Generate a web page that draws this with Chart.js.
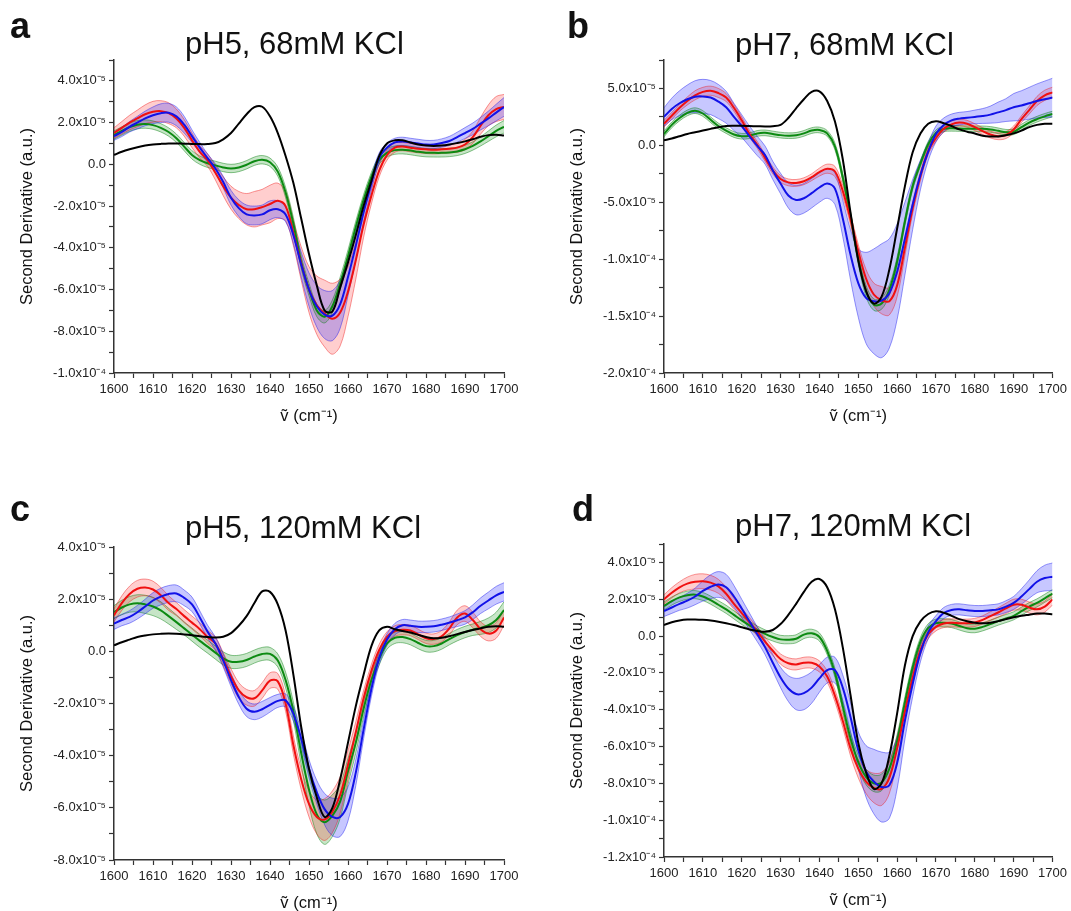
<!DOCTYPE html>
<html>
<head>
<meta charset="utf-8">
<title>Second derivative spectra</title>
<script src="https://cdn.jsdelivr.net/npm/chart.js@4.4.1/dist/chart.umd.min.js"></script>
<style>
  html, body { margin: 0; padding: 0; background: #ffffff; overflow: hidden; }
  #page { position: relative; width: 1071px; height: 911px; overflow: hidden;
          font-family: "Liberation Sans", Arial, Helvetica, sans-serif; color: #111; }
  #page canvas { position: absolute; }
  .letter { position: absolute; font-size: 36px; line-height: 36px; font-weight: bold; }
  .title { position: absolute; font-size: 31px; line-height: 31px; white-space: nowrap; }
</style>
</head>
<body>
<div id="page">
  <canvas id="chartA" width="535" height="455" style="left:0px;top:0px"></canvas>
  <canvas id="chartB" width="521" height="455" style="left:550px;top:0px"></canvas>
  <canvas id="chartC" width="535" height="455" style="left:0px;top:487px"></canvas>
  <canvas id="chartD" width="521" height="455" style="left:550px;top:484px"></canvas>
  <div class="letter" style="left:10px;top:8px">a</div>
  <div class="letter" style="left:567px;top:8px">b</div>
  <div class="letter" style="left:10px;top:491px">c</div>
  <div class="letter" style="left:572px;top:491px">d</div>
  <div class="title" style="left:185px;top:28px">pH5, 68mM KCl</div>
  <div class="title" style="left:735px;top:29px">pH7, 68mM KCl</div>
  <div class="title" style="left:185px;top:512px">pH5, 120mM KCl</div>
  <div class="title" style="left:735px;top:510px">pH7, 120mM KCl</div>
</div>
<script>
// all second derivative values are in units of 1e-5
var wavenumbers = [1600, 1602, 1604, 1606, 1608, 1610, 1612, 1614, 1616, 1618,
    1620, 1622, 1624, 1626, 1628, 1630, 1632, 1634, 1636, 1638,
    1640, 1642, 1644, 1646, 1648, 1650, 1652, 1654, 1656, 1658,
    1660, 1662, 1664, 1666, 1668, 1670, 1672, 1674, 1676, 1678,
    1680, 1682, 1684, 1686, 1688, 1690, 1692, 1694, 1696, 1698, 1700];

// a: pH5, 68mM KCl
var aBlack = [0.45, 0.6, 0.72, 0.82, 0.9, 0.95, 0.98, 1.0, 1.0, 0.99, 0.98, 0.97, 0.97, 1.02, 1.2, 1.5, 1.95, 2.4, 2.74, 2.76,
    2.3, 1.5, 0.4, -0.9, -2.6, -4.3, -5.8, -7.0, -7.05, -5.9, -4.7, -3.4, -2.0, -0.8, 0.4, 1.0, 1.15, 1.15, 1.05, 0.95,
    0.9, 0.88, 0.9, 0.95, 1.02, 1.1, 1.2, 1.32, 1.4, 1.42, 1.38];
var aGreen = [1.4, 1.6, 1.78, 1.9, 1.93, 1.88, 1.75, 1.55, 1.25, 0.85, 0.45, 0.2, 0.05, -0.05, -0.15, -0.2, -0.15, -0.02, 0.15, 0.22,
    0.1, -0.35, -1.35, -2.85, -4.7, -6.0, -7.0, -7.3, -6.8, -5.7, -4.4, -3.0, -1.7, -0.6, 0.2, 0.55, 0.68, 0.7, 0.66, 0.6,
    0.56, 0.55, 0.55, 0.57, 0.62, 0.72, 0.88, 1.1, 1.35, 1.6, 1.8];
var aGreenSd = [0.2, 0.2, 0.2, 0.2, 0.2, 0.2, 0.2, 0.2, 0.2, 0.2, 0.2, 0.2, 0.2, 0.2, 0.2, 0.2, 0.2, 0.2, 0.2, 0.2,
    0.2, 0.22, 0.25, 0.3, 0.3, 0.3, 0.3, 0.3, 0.3, 0.3, 0.3, 0.28, 0.25, 0.22, 0.2, 0.2, 0.2, 0.2, 0.2, 0.2,
    0.2, 0.2, 0.2, 0.2, 0.2, 0.2, 0.2, 0.22, 0.25, 0.28, 0.3];
var aRed = [1.5, 1.75, 2.0, 2.2, 2.4, 2.52, 2.55, 2.45, 2.2, 1.75, 1.15, 0.6, 0.2, -0.4, -1.05, -1.6, -1.95, -2.15, -2.15, -2.05,
    -1.9, -1.75, -2.0, -3.3, -4.75, -6.0, -6.75, -7.15, -7.4, -7.1, -6.1, -4.6, -2.9, -1.5, -0.3, 0.45, 0.8, 0.85, 0.8, 0.75,
    0.72, 0.7, 0.72, 0.75, 0.8, 0.95, 1.3, 1.85, 2.35, 2.65, 2.75];
var aRedSd = [0.25, 0.3, 0.35, 0.4, 0.45, 0.5, 0.5, 0.5, 0.45, 0.4, 0.35, 0.3, 0.3, 0.35, 0.45, 0.55, 0.65, 0.75, 0.85, 0.85,
    0.9, 0.85, 0.7, 0.6, 0.8, 1.1, 1.4, 1.6, 1.7, 1.6, 1.2, 0.9, 0.6, 0.4, 0.3, 0.25, 0.22, 0.2, 0.2, 0.2,
    0.2, 0.2, 0.2, 0.2, 0.22, 0.25, 0.3, 0.4, 0.5, 0.6, 0.6];
var aBlue = [1.35, 1.55, 1.8, 2.0, 2.2, 2.35, 2.45, 2.47, 2.3, 1.9, 1.35, 0.8, 0.3, -0.2, -0.85, -1.6, -2.1, -2.4, -2.45, -2.4,
    -2.2, -2.15, -2.4, -3.4, -4.8, -6.0, -6.8, -7.2, -7.25, -6.7, -5.4, -3.9, -2.3, -0.9, 0.3, 0.8, 1.05, 1.1, 1.05, 1.0,
    0.95, 0.95, 1.02, 1.12, 1.3, 1.5, 1.7, 1.95, 2.2, 2.48, 2.75];
var aBlueSd = [0.2, 0.22, 0.25, 0.3, 0.35, 0.4, 0.45, 0.45, 0.45, 0.4, 0.3, 0.25, 0.2, 0.22, 0.28, 0.35, 0.4, 0.45, 0.45, 0.45,
    0.45, 0.4, 0.35, 0.4, 0.6, 0.8, 1.0, 1.15, 1.2, 1.15, 0.9, 0.7, 0.5, 0.35, 0.25, 0.22, 0.2, 0.2, 0.2, 0.2,
    0.2, 0.2, 0.2, 0.22, 0.24, 0.26, 0.28, 0.3, 0.35, 0.4, 0.45];

// b: pH7, 68mM KCl
var bBlack = [0.44, 0.6, 0.8, 1.0, 1.15, 1.3, 1.45, 1.6, 1.7, 1.72, 1.72, 1.7, 1.68, 1.66, 1.68, 1.8, 2.4, 3.25, 4.05, 4.7,
    4.75, 3.9, 2.1, -1.2, -5.9, -10.1, -12.8, -13.9, -13.3, -10.9, -7.3, -3.6, -0.6, 1.05, 1.9, 2.12, 1.95, 1.7, 1.4, 1.2,
    1.05, 0.85, 0.78, 0.78, 0.88, 1.05, 1.3, 1.6, 1.8, 1.9, 1.9];
var bGreen = [1.0, 1.8, 2.4, 2.85, 3.05, 2.8, 2.25, 1.7, 1.3, 0.95, 0.8, 0.85, 1.05, 1.1, 1.0, 0.9, 0.85, 0.88, 1.05, 1.3,
    1.35, 1.05, -0.1, -2.8, -6.2, -10.0, -12.8, -14.0, -13.9, -12.7, -10.2, -6.7, -3.6, -1.6, 0.1, 1.1, 1.45, 1.5, 1.48, 1.46,
    1.45, 1.45, 1.4, 1.28, 1.15, 1.2, 1.6, 2.0, 2.3, 2.55, 2.75];
var bGreenSd = [0.25, 0.25, 0.25, 0.25, 0.25, 0.25, 0.25, 0.25, 0.25, 0.25, 0.25, 0.25, 0.25, 0.25, 0.25, 0.25, 0.25, 0.25, 0.25, 0.25,
    0.25, 0.25, 0.3, 0.35, 0.4, 0.45, 0.5, 0.5, 0.5, 0.45, 0.4, 0.35, 0.3, 0.25, 0.25, 0.25, 0.25, 0.25, 0.25, 0.25,
    0.25, 0.25, 0.25, 0.25, 0.25, 0.25, 0.25, 0.25, 0.25, 0.25, 0.25];
var bRed = [1.9, 2.6, 3.3, 3.9, 4.4, 4.7, 4.8, 4.6, 4.2, 3.3, 2.2, 1.0, 0.05, -1.1, -2.2, -2.95, -3.25, -3.3, -3.15, -2.8,
    -2.35, -2.05, -2.3, -4.0, -6.5, -9.3, -11.7, -13.1, -13.6, -13.7, -12.3, -9.0, -5.5, -2.7, -0.5, 0.65, 1.45, 1.85, 2.0, 1.9,
    1.6, 1.25, 0.95, 0.8, 0.9, 1.4, 2.3, 3.1, 3.9, 4.4, 4.66];
var bRedSd = [0.3, 0.3, 0.3, 0.35, 0.4, 0.4, 0.4, 0.4, 0.35, 0.3, 0.3, 0.3, 0.3, 0.3, 0.3, 0.3, 0.3, 0.3, 0.3, 0.3,
    0.35, 0.4, 0.45, 0.5, 0.5, 0.6, 0.8, 1.0, 1.2, 1.2, 1.0, 0.7, 0.5, 0.4, 0.3, 0.3, 0.3, 0.3, 0.3, 0.3,
    0.3, 0.3, 0.3, 0.3, 0.3, 0.3, 0.3, 0.35, 0.4, 0.45, 0.45];
var bBlue = [2.5, 3.2, 3.7, 4.05, 4.28, 4.3, 4.2, 3.85, 3.35, 2.5, 1.7, 0.8, -0.05, -0.85, -2.2, -3.35, -4.4, -4.8, -4.65, -4.2,
    -3.7, -3.35, -3.8, -6.4, -9.6, -12.1, -13.4, -13.7, -13.65, -13.0, -11.1, -8.2, -5.2, -2.6, -0.55, 1.0, 1.8, 2.2, 2.35, 2.42,
    2.5, 2.58, 2.7, 2.9, 3.1, 3.35, 3.5, 3.7, 3.9, 4.05, 4.2];
var bBlueSd = [0.8, 0.95, 1.1, 1.25, 1.4, 1.5, 1.5, 1.5, 1.4, 1.2, 1.0, 0.9, 0.85, 0.8, 0.8, 0.9, 1.1, 1.3, 1.3, 1.3,
    1.3, 1.3, 1.4, 1.6, 2.2, 3.0, 4.0, 4.6, 5.0, 4.8, 4.2, 3.2, 2.2, 1.3, 0.8, 0.7, 0.6, 0.55, 0.55, 0.55,
    0.6, 0.65, 0.75, 0.9, 1.0, 1.2, 1.3, 1.4, 1.5, 1.6, 1.7];

// c: pH5, 120mM KCl
var cBlack = [0.23, 0.35, 0.45, 0.55, 0.61, 0.65, 0.67, 0.68, 0.67, 0.65, 0.62, 0.58, 0.55, 0.53, 0.56, 0.7, 0.98, 1.35, 1.85, 2.3,
    2.28, 1.8, 0.8, -0.9, -2.9, -4.5, -5.6, -6.35, -6.0, -4.9, -3.5, -2.1, -0.9, 0.2, 0.8, 0.94, 0.85, 0.78, 0.72, 0.63,
    0.55, 0.5, 0.52, 0.58, 0.66, 0.74, 0.82, 0.88, 0.94, 0.96, 0.94];
var cGreen = [1.5, 1.68, 1.8, 1.84, 1.8, 1.72, 1.57, 1.35, 1.12, 0.88, 0.64, 0.4, 0.18, -0.05, -0.27, -0.4, -0.4, -0.33, -0.2, -0.1,
    -0.1, -0.35, -1.1, -2.3, -3.9, -5.3, -6.25, -6.55, -6.3, -5.75, -4.6, -3.5, -2.2, -1.1, -0.3, 0.3, 0.52, 0.55, 0.47, 0.32,
    0.2, 0.2, 0.3, 0.47, 0.62, 0.74, 0.83, 0.9, 1.0, 1.2, 1.58];
var cGreenSd = [0.25, 0.28, 0.3, 0.33, 0.35, 0.35, 0.33, 0.3, 0.28, 0.25, 0.25, 0.25, 0.25, 0.25, 0.25, 0.25, 0.25, 0.25, 0.25, 0.25,
    0.25, 0.25, 0.3, 0.35, 0.45, 0.6, 0.75, 0.85, 0.8, 0.65, 0.5, 0.4, 0.3, 0.25, 0.22, 0.22, 0.22, 0.22, 0.22, 0.22,
    0.22, 0.22, 0.22, 0.22, 0.22, 0.22, 0.22, 0.25, 0.28, 0.3, 0.32];
var cRed = [1.38, 1.85, 2.2, 2.4, 2.45, 2.37, 2.15, 1.85, 1.62, 1.35, 1.1, 0.85, 0.55, 0.3, -0.3, -0.95, -1.5, -1.76, -1.8, -1.5,
    -1.12, -1.15, -2.0, -3.6, -4.9, -5.85, -6.35, -6.45, -6.15, -5.5, -4.35, -3.1, -1.8, -0.75, 0.05, 0.55, 0.78, 0.83, 0.8, 0.65,
    0.5, 0.47, 0.58, 0.88, 1.3, 1.45, 1.2, 0.85, 0.68, 0.8, 1.3];
var cRedSd = [0.25, 0.28, 0.3, 0.32, 0.32, 0.32, 0.3, 0.28, 0.25, 0.25, 0.25, 0.25, 0.25, 0.25, 0.25, 0.28, 0.3, 0.3, 0.3, 0.3,
    0.3, 0.3, 0.3, 0.35, 0.4, 0.5, 0.65, 0.8, 0.8, 0.7, 0.55, 0.4, 0.3, 0.25, 0.22, 0.2, 0.2, 0.2, 0.2, 0.2,
    0.2, 0.2, 0.22, 0.25, 0.28, 0.3, 0.3, 0.28, 0.28, 0.3, 0.3];
var cBlue = [1.06, 1.2, 1.32, 1.5, 1.72, 1.95, 2.1, 2.2, 2.22, 2.05, 1.8, 1.3, 0.75, 0.3, -0.35, -1.1, -1.75, -2.2, -2.32, -2.22,
    -2.05, -1.9, -1.88, -2.4, -3.35, -4.5, -5.4, -6.05, -6.35, -6.35, -5.85, -4.65, -3.0, -1.45, -0.25, 0.45, 0.85, 1.0, 0.98, 0.94,
    0.94, 0.96, 1.02, 1.1, 1.19, 1.3, 1.5, 1.75, 1.95, 2.15, 2.28];
var cBlueSd = [0.22, 0.22, 0.24, 0.26, 0.28, 0.3, 0.32, 0.32, 0.32, 0.3, 0.28, 0.25, 0.25, 0.25, 0.25, 0.25, 0.28, 0.3, 0.3, 0.3,
    0.28, 0.25, 0.25, 0.28, 0.3, 0.35, 0.45, 0.6, 0.72, 0.75, 0.65, 0.5, 0.35, 0.28, 0.25, 0.22, 0.22, 0.22, 0.22, 0.22,
    0.22, 0.22, 0.22, 0.22, 0.24, 0.26, 0.28, 0.3, 0.32, 0.34, 0.35];

// d: pH7, 120mM KCl
var dBlack = [0.6, 0.75, 0.85, 0.9, 0.9, 0.88, 0.84, 0.78, 0.7, 0.6, 0.48, 0.36, 0.28, 0.24, 0.33, 0.65, 1.15, 1.75, 2.4, 2.95,
    3.1, 2.65, 1.45, -0.6, -3.2, -5.8, -7.4, -8.3, -8.0, -6.5, -4.2, -1.6, 0.0, 0.8, 1.2, 1.35, 1.27, 1.1, 0.92, 0.8,
    0.72, 0.69, 0.72, 0.81, 0.92, 1.02, 1.1, 1.16, 1.22, 1.22, 1.18];
var dGreen = [1.63, 1.9, 2.1, 2.22, 2.25, 2.15, 1.95, 1.7, 1.45, 1.15, 0.85, 0.58, 0.33, 0.12, -0.05, -0.18, -0.2, -0.15, 0.08, 0.15,
    -0.05, -0.8, -2.0, -3.8, -5.55, -6.85, -7.65, -8.0, -7.95, -7.2, -5.7, -3.6, -1.7, -0.3, 0.45, 0.7, 0.72, 0.68, 0.55, 0.43,
    0.4, 0.5, 0.65, 0.81, 0.95, 1.1, 1.35, 1.6, 1.8, 2.05, 2.31];
var dGreenSd = [0.22, 0.22, 0.22, 0.22, 0.22, 0.22, 0.22, 0.22, 0.22, 0.22, 0.22, 0.22, 0.22, 0.22, 0.22, 0.22, 0.22, 0.22, 0.22, 0.22,
    0.22, 0.22, 0.25, 0.28, 0.32, 0.38, 0.42, 0.45, 0.45, 0.4, 0.35, 0.3, 0.25, 0.22, 0.22, 0.22, 0.22, 0.22, 0.22, 0.22,
    0.22, 0.22, 0.22, 0.22, 0.22, 0.22, 0.22, 0.22, 0.22, 0.22, 0.22];
var dRed = [1.99, 2.35, 2.65, 2.85, 2.95, 2.98, 2.9, 2.7, 2.3, 1.75, 1.25, 0.75, 0.25, -0.3, -0.8, -1.25, -1.48, -1.54, -1.45, -1.45,
    -1.65, -2.2, -3.25, -4.6, -6.1, -7.2, -7.9, -8.25, -8.3, -7.7, -6.1, -4.1, -2.25, -0.75, 0.1, 0.5, 0.68, 0.72, 0.7, 0.7,
    0.74, 0.88, 1.08, 1.28, 1.5, 1.7, 1.7, 1.55, 1.45, 1.6, 1.99];
var dRedSd = [0.25, 0.28, 0.3, 0.35, 0.4, 0.4, 0.4, 0.38, 0.35, 0.3, 0.28, 0.25, 0.25, 0.25, 0.25, 0.28, 0.3, 0.3, 0.3, 0.3,
    0.3, 0.3, 0.32, 0.35, 0.4, 0.5, 0.65, 0.8, 0.9, 0.85, 0.65, 0.45, 0.35, 0.28, 0.25, 0.22, 0.22, 0.22, 0.22, 0.22,
    0.22, 0.22, 0.24, 0.26, 0.28, 0.3, 0.3, 0.3, 0.3, 0.3, 0.3];
var dBlue = [1.36, 1.55, 1.75, 1.92, 2.15, 2.45, 2.68, 2.8, 2.65, 2.15, 1.5, 0.8, 0.1, -0.6, -1.45, -2.25, -2.85, -3.15, -3.1, -2.8,
    -2.3, -1.85, -1.85, -2.8, -4.4, -6.2, -7.35, -7.9, -8.2, -8.1, -6.9, -4.6, -2.6, -0.9, 0.2, 0.81, 1.25, 1.42, 1.45, 1.4,
    1.36, 1.36, 1.4, 1.45, 1.6, 1.8, 2.15, 2.55, 2.95, 3.15, 3.22];
var dBlueSd = [0.3, 0.32, 0.35, 0.4, 0.45, 0.55, 0.65, 0.7, 0.7, 0.6, 0.5, 0.45, 0.4, 0.4, 0.45, 0.55, 0.7, 0.85, 0.9, 0.85,
    0.75, 0.7, 0.7, 0.7, 0.8, 1.0, 1.4, 1.75, 1.9, 1.8, 1.4, 1.0, 0.7, 0.5, 0.35, 0.3, 0.3, 0.3, 0.3, 0.3,
    0.3, 0.3, 0.3, 0.3, 0.32, 0.35, 0.42, 0.5, 0.6, 0.7, 0.75];

var FONT = '"Liberation Sans", Arial, Helvetica, sans-serif';
var AXIS_COLOR = '#333333';
var GREEN = '#0c8a12', RED = '#f01010', BLUE = '#1212e8';

function toPoints(values) {
    return wavenumbers.map(function (x, i) { return { x: x, y: values[i] }; });
}

function shifted(mean, sd, sign) {
    return mean.map(function (m, i) { return m + sign * sd[i]; });
}

function meanLine(values, color) {
    return {
        data: toPoints(values),
        borderColor: color,
        borderWidth: 2,
        pointRadius: 0,
        fill: false,
        tension: 0.35
    };
}

// upper edge fills down to the lower edge that follows it
function bandPair(mean, sd, edgeColor, fillColor) {
    return [
        {
            data: toPoints(shifted(mean, sd, 1)),
            borderColor: edgeColor,
            borderWidth: 0.8,
            pointRadius: 0,
            backgroundColor: fillColor,
            fill: '+1',
            tension: 0.35
        },
        {
            data: toPoints(shifted(mean, sd, -1)),
            borderColor: edgeColor,
            borderWidth: 0.8,
            pointRadius: 0,
            fill: false,
            tension: 0.35
        }
    ];
}

function sciLabel(v) {
    if (Math.abs(v) < 1e-9) return '0.0';
    if (Math.abs(v) >= 10) return (v / 10).toFixed(1) + 'x10\u207B\u2074';
    return v.toFixed(1) + 'x10\u207B\u2075';
}

function initChart(canvasId, s, yMin, yMax, yMinor, yMajor, rightPad) {
    var datasets = [
        meanLine(s.black, '#000000'),
        meanLine(s.blue, BLUE),
        meanLine(s.red, RED),
        meanLine(s.green, GREEN)
    ].concat(
        bandPair(s.blue, s.blueSd, 'rgba(20,20,240,0.55)', 'rgba(40,40,255,0.26)'),
        bandPair(s.red, s.redSd, 'rgba(240,20,20,0.55)', 'rgba(255,30,30,0.22)'),
        bandPair(s.green, s.greenSd, 'rgba(10,130,20,0.6)', 'rgba(30,150,30,0.25)')
    );

    new Chart(document.getElementById(canvasId), {
        type: 'line',
        data: { datasets: datasets },
        options: {
            responsive: false,
            animation: false,
            events: [],
            layout: { padding: { top: 60, right: rightPad, bottom: 0, left: 0 } },
            plugins: {
                legend: { display: false },
                tooltip: { enabled: false },
                filler: { drawTime: 'beforeDatasetsDraw' }
            },
            scales: {
                x: {
                    type: 'linear',
                    min: 1600,
                    max: 1700,
                    afterFit: function (scale) { scale.height = 82; },
                    border: { display: true, color: AXIS_COLOR, width: 1.5 },
                    grid: { drawOnChartArea: false, drawTicks: true, tickLength: 5, color: AXIS_COLOR, tickWidth: 1.2 },
                    ticks: {
                        stepSize: 5,
                        autoSkip: false,
                        maxRotation: 0,
                        padding: 4,
                        color: '#222',
                        font: { family: FONT, size: 13 },
                        callback: function (v) { return v % 10 === 0 ? String(v) : ''; }
                    },
                    title: {
                        display: true,
                        text: '\u1E7D (cm\u207B\u00B9)',
                        color: '#111',
                        font: { family: FONT, size: 16.5 },
                        padding: { top: 0, bottom: 29 }
                    }
                },
                y: {
                    min: yMin,
                    max: yMax,
                    afterFit: function (scale) { scale.width = 114; },
                    border: { display: true, color: AXIS_COLOR, width: 1.5 },
                    grid: { drawOnChartArea: false, drawTicks: true, tickLength: 5, color: AXIS_COLOR, tickWidth: 1.2 },
                    ticks: {
                        stepSize: yMinor,
                        autoSkip: false,
                        padding: 3,
                        color: '#222',
                        font: { family: FONT, size: 13 },
                        callback: function (v) {
                            var r = v / yMajor;
                            return Math.abs(r - Math.round(r)) < 1e-6 ? sciLabel(v) : '';
                        }
                    },
                    title: {
                        display: true,
                        text: 'Second Derivative (a.u.)',
                        color: '#111',
                        font: { family: FONT, size: 16.5 },
                        padding: { top: 18, bottom: 0 }
                    }
                }
            }
        }
    });
}

initChart('chartA', { black: aBlack, green: aGreen, greenSd: aGreenSd, red: aRed, redSd: aRedSd, blue: aBlue, blueSd: aBlueSd },
    -10, 5, 1, 2, 31);
initChart('chartB', { black: bBlack, green: bGreen, greenSd: bGreenSd, red: bRed, redSd: bRedSd, blue: bBlue, blueSd: bBlueSd },
    -20, 7.5, 2.5, 5, 17);
initChart('chartC', { black: cBlack, green: cGreen, greenSd: cGreenSd, red: cRed, redSd: cRedSd, blue: cBlue, blueSd: cBlueSd },
    -8, 4, 1, 2, 31);
initChart('chartD', { black: dBlack, green: dGreen, greenSd: dGreenSd, red: dRed, redSd: dRedSd, blue: dBlue, blueSd: dBlueSd },
    -12, 5, 1, 2, 17);
</script>
</body>
</html>
